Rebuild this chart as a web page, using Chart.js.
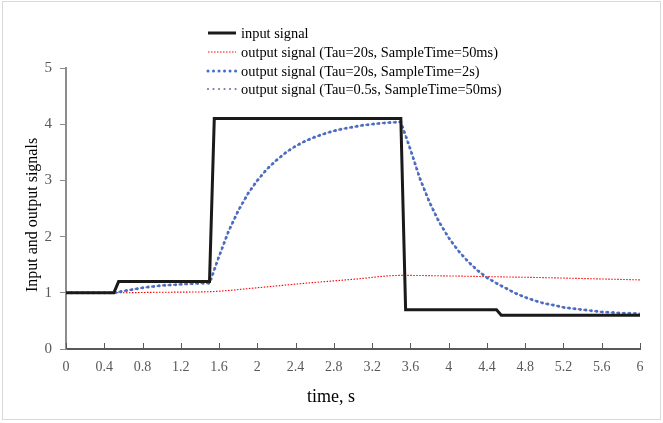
<!DOCTYPE html>
<html>
<head>
<meta charset="utf-8">
<script src="https://cdn.jsdelivr.net/npm/chart.js@4.4.1/dist/chart.umd.min.js"></script>
<style>
  body { margin: 0; background: #fff; }
  canvas { display: block; }
</style>
</head>
<body>
<canvas id="chart" width="663" height="423"></canvas>
<script>
// Input signal (step changes)
const inputTime = [0, 0.5, 0.55, 1.5, 1.55, 3.5, 3.55, 4.5, 4.55, 6];
const inputSignal = [1, 1, 1.2, 1.2, 4.1, 4.1, 0.7, 0.7, 0.6, 0.6];

// Time samples for the fast outputs
const outputTime = [
  0, 0.1, 0.2, 0.3, 0.4, 0.5, 0.6, 0.7, 0.8, 0.9,
  1.0, 1.1, 1.2, 1.3, 1.4, 1.5, 1.6, 1.7, 1.8, 1.9,
  2.0, 2.1, 2.2, 2.3, 2.4, 2.5, 2.6, 2.7, 2.8, 2.9,
  3.0, 3.1, 3.2, 3.3, 3.4, 3.5, 3.6, 3.7, 3.8, 3.9,
  4.0, 4.1, 4.2, 4.3, 4.4, 4.5, 4.6, 4.7, 4.8, 4.9,
  5.0, 5.1, 5.2, 5.3, 5.4, 5.5, 5.6, 5.7, 5.8, 5.9, 6.0
];

// output signal (Tau=20s, SampleTime=2s)
const outTau20Slow = [
  1, 1, 1, 1, 1, 1, 1.03, 1.06, 1.09, 1.11,
  1.13, 1.14, 1.15, 1.16, 1.17, 1.17, 1.65, 2.10, 2.46, 2.76,
  3.00, 3.20, 3.36, 3.50, 3.61, 3.70, 3.77, 3.83, 3.88, 3.92,
  3.95, 3.98, 4.00, 4.02, 4.03, 4.04, 3.55, 3.03, 2.61, 2.26,
  1.98, 1.75, 1.56, 1.40, 1.27, 1.17, 1.08, 0.99, 0.92, 0.86,
  0.81, 0.78, 0.74, 0.72, 0.70, 0.68, 0.66, 0.65, 0.64, 0.635, 0.63
];

// output signal (Tau=0.5s, SampleTime=50ms)
const outTau05 = [
  1, 1, 1, 1, 1, 1, 1.03, 1.06, 1.09, 1.11,
  1.13, 1.14, 1.15, 1.16, 1.17, 1.17, 1.65, 2.10, 2.46, 2.76,
  3.00, 3.20, 3.36, 3.50, 3.61, 3.70, 3.77, 3.83, 3.88, 3.92,
  3.95, 3.98, 4.00, 4.02, 4.03, 4.04, 3.55, 3.03, 2.61, 2.26,
  1.98, 1.75, 1.56, 1.40, 1.27, 1.17, 1.08, 0.99, 0.92, 0.86,
  0.81, 0.78, 0.74, 0.72, 0.70, 0.68, 0.66, 0.65, 0.64, 0.635, 0.63
];

// output signal (Tau=20s, SampleTime=50ms)
const redTime = [0, 0.5, 1, 1.5, 2, 2.5, 3, 3.5, 4, 4.5, 5, 5.5, 6];
const outTau20Fast = [1, 1, 1.01, 1.02, 1.09, 1.17, 1.24, 1.31, 1.30, 1.285, 1.27, 1.25, 1.23];

const seriesNames = [
  "input signal",
  "output signal (Tau=20s, SampleTime=50ms)",
  "output signal (Tau=20s, SampleTime=2s)",
  "output signal (Tau=0.5s, SampleTime=50ms)"
];

const xTitle = "time, s";
const yTitle = "Input and output signals";

const FONT = '"Liberation Serif", "Times New Roman", serif';

function pairs(xs, ys) {
  return xs.map((x, i) => ({ x: x, y: ys[i] }));
}

// Line styles shared by datasets and legend
const styles = [
  { color: "#1a1a1a", width: 3, dash: [], cap: "butt", offset: 0 },
  { color: "#ff0000", width: 1.1, dash: [1.5, 1.5], cap: "butt", offset: 0 },
  { color: "#3f6fc4", width: 3, dash: [0.01, 5.5], cap: "round", offset: 0 },
  { color: "#8a6fb5", width: 2.2, dash: [0.01, 5.5], cap: "round", offset: 1.6 }
];

// Draws outer frame, inward x tick marks, axis titles and the legend
const extrasPlugin = {
  id: "extras",
  afterDraw(chart) {
    const ctx = chart.ctx;
    const xs = chart.scales.x;
    const bottom = chart.chartArea.bottom;

    ctx.save();
    // outer frame
    ctx.strokeStyle = "#d9d9d9";
    ctx.lineWidth = 1;
    ctx.strokeRect(2.5, 1.5, 658, 418);

    // x ticks pointing up
    ctx.strokeStyle = "#595959";
    ctx.lineWidth = 1;
    xs.ticks.forEach((t, i) => {
      const px = Math.round(xs.getPixelForTick(i)) + 0.5;
      ctx.beginPath();
      ctx.moveTo(px, bottom);
      ctx.lineTo(px, bottom - 6);
      ctx.stroke();
    });

    // axis titles
    ctx.fillStyle = "#000";
    ctx.textAlign = "center";
    ctx.textBaseline = "middle";
    ctx.font = "18px " + FONT;
    ctx.fillText(xTitle, 331, 397);
    ctx.save();
    ctx.translate(33, 215);
    ctx.rotate(-Math.PI / 2);
    ctx.font = "16px " + FONT;
    ctx.fillText(yTitle, 0, 0);
    ctx.restore();

    // legend
    const rowsY = [33, 52, 71, 89];
    ctx.font = "14.4px " + FONT;
    ctx.textAlign = "left";
    seriesNames.forEach((name, i) => {
      const st = styles[i];
      ctx.strokeStyle = st.color;
      ctx.lineWidth = st.width;
      ctx.setLineDash(st.dash);
      ctx.lineCap = st.cap;
      ctx.beginPath();
      ctx.moveTo(208, rowsY[i]);
      ctx.lineTo(236, rowsY[i]);
      ctx.stroke();
      ctx.setLineDash([]);
      ctx.fillText(name, 241, rowsY[i] + 1);
    });
    ctx.restore();
  }
};

function lineSet(idx, xs, ys, order) {
  const st = styles[idx];
  return {
    label: seriesNames[idx],
    data: pairs(xs, ys),
    borderColor: st.color,
    borderWidth: st.width,
    borderDash: st.dash,
    borderDashOffset: st.offset,
    borderCapStyle: st.cap,
    pointRadius: 0,
    order: order
  };
}

new Chart(document.getElementById("chart"), {
  type: "line",
  data: {
    datasets: [
      lineSet(0, inputTime, inputSignal, 0),
      lineSet(2, outputTime, outTau20Slow, 1),
      lineSet(3, outputTime, outTau05, 2),
      Object.assign(lineSet(1, redTime, outTau20Fast, 3), { cubicInterpolationMode: "monotone" })
    ]
  },
  options: {
    responsive: false,
    animation: false,
    layout: { padding: { top: 68, right: 23, left: 0, bottom: 0 } },
    plugins: {
      legend: { display: false },
      tooltip: { enabled: false }
    },
    scales: {
      x: {
        type: "linear",
        min: 0,
        max: 6,
        afterFit(scale) { scale.height = 74; },
        ticks: {
          stepSize: 0.4,
          padding: 10,
          color: "#595959",
          font: { family: FONT, size: 14 },
          callback: v => String(Number(v.toFixed(1)))
        },
        grid: { drawOnChartArea: false, drawTicks: false },
        border: { color: "#595959", width: 2 }
      },
      y: {
        min: 0,
        max: 5,
        afterFit(scale) { scale.width = 66; },
        ticks: {
          stepSize: 1,
          padding: 8,
          color: "#595959",
          font: { family: FONT, size: 15 }
        },
        grid: { drawOnChartArea: false, drawTicks: true, tickLength: 6, color: "#8c8c8c" },
        border: { color: "#8c8c8c", width: 2 }
      }
    }
  },
  plugins: [extrasPlugin]
});
</script>
</body>
</html>
